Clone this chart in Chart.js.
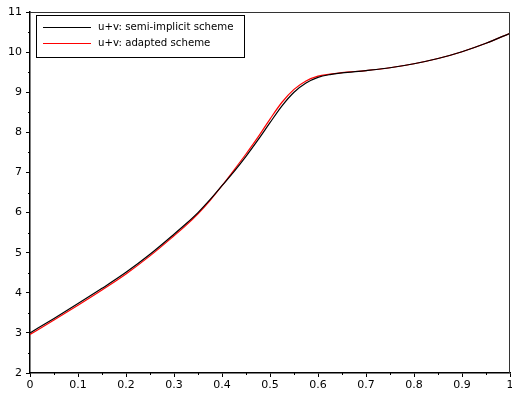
<!DOCTYPE html>
<html>
<head>
<meta charset="utf-8">
<script src="https://cdn.jsdelivr.net/npm/chart.js@4/dist/chart.umd.min.js"></script>
<style>
html,body{margin:0;padding:0;background:#fff;}
#wrap{width:512px;height:395px;}
</style>
</head>
<body>
<div id="wrap"><canvas id="c" width="512" height="395"></canvas></div>
<script>
const xValues = [0,0.05,0.1,0.15,0.2,0.25,0.3,0.325,0.35,0.375,0.4,0.425,0.45,0.475,0.5,0.525,0.55,0.575,0.6,0.625,0.65,0.7,0.75,0.8,0.85,0.9,0.95,1.0];
const semiImplicit = [3.0,3.36,3.73,4.11,4.51,4.96,5.46,5.72,6.0,6.32,6.67,7.02,7.4,7.81,8.24,8.66,9.0,9.23,9.37,9.44,9.48,9.54,9.61,9.71,9.84,10.01,10.22,10.47];
const adapted = [2.96,3.32,3.69,4.07,4.47,4.92,5.42,5.68,5.97,6.3,6.67,7.06,7.46,7.88,8.33,8.75,9.07,9.28,9.4,9.45,9.49,9.54,9.61,9.71,9.84,10.01,10.22,10.47];
const seriesLabels = ['u+v: semi-implicit scheme','u+v: adapted scheme'];
const seriesColors = ['#000000','#ff0000'];
const xTicks = [0,0.1,0.2,0.3,0.4,0.5,0.6,0.7,0.8,0.9,1];
const yTicks = [2,3,4,5,6,7,8,9,10,11];

const FONT = 'DejaVu Sans';

const framePlugin = {
  id:'frame',
  afterDraw(chart){
    const ctx = chart.ctx, a = chart.chartArea;
    const xs = chart.scales.x, ys = chart.scales.y;
    ctx.save();
    ctx.strokeStyle = '#333';
    ctx.lineWidth = 1;
    ctx.beginPath();
    ctx.moveTo(a.left, a.top+0.5); ctx.lineTo(a.right-0.5, a.top+0.5); ctx.lineTo(a.right-0.5, a.bottom);
    ctx.stroke();
    ctx.strokeStyle = '#000';
    ctx.beginPath();
    for (let i=0;i<xTicks.length-1;i++){
      const v=(xTicks[i]+xTicks[i+1])/2;
      const p=Math.round(xs.getPixelForValue(v))+0.5;
      ctx.moveTo(p,a.bottom); ctx.lineTo(p,a.bottom+2);
    }
    for (let i=0;i<yTicks.length-1;i++){
      const v=(yTicks[i]+yTicks[i+1])/2;
      const p=Math.round(ys.getPixelForValue(v))+0.5;
      ctx.moveTo(a.left,p); ctx.lineTo(a.left-2,p);
    }
    ctx.stroke();
    // legend
    const lx=36, ly=15, lw=208, lh=42;
    ctx.fillStyle='#fff';
    ctx.fillRect(lx,ly,lw,lh);
    ctx.strokeStyle='#000';
    ctx.lineWidth=1;
    ctx.strokeRect(lx+0.5,ly+0.5,lw,lh);
    ctx.font = '10.2px "'+FONT+'"';
    ctx.textBaseline='middle';
    ctx.textAlign='left';
    for (let i=0;i<seriesLabels.length;i++){
      const y = ly+12+i*16;
      ctx.fillStyle = seriesColors[i];
      ctx.fillRect(lx+7, y, 48, 1);
      ctx.fillStyle='#000';
      ctx.fillText(seriesLabels[i], lx+62, y);
    }
    ctx.restore();
  }
};

new Chart(document.getElementById('c'), {
  type:'line',
  data:{
    datasets:[
      {label:seriesLabels[0], data:xValues.map((x,i)=>({x:x,y:semiImplicit[i]})), borderColor:seriesColors[0], borderWidth:1.2, pointRadius:0, cubicInterpolationMode:'monotone', fill:false},
      {label:seriesLabels[1], data:xValues.map((x,i)=>({x:x,y:adapted[i]})), borderColor:seriesColors[1], borderWidth:1.2, pointRadius:0, cubicInterpolationMode:'monotone', fill:false}
    ]
  },
  options:{
    responsive:false,
    animation:false,
    events:[],
    layout:{padding:{left:0,right:2,top:12,bottom:0}},
    plugins:{legend:{display:false},tooltip:{enabled:false}},
    scales:{
      x:{
        type:'linear', min:0, max:1,
        afterBuildTicks(s){ s.ticks = xTicks.map(v=>({value:v})); },
        afterFit(s){ s.height = 22; s.paddingLeft = 0; s.paddingRight = 0; },
        ticks:{ font:{family:FONT,size:11}, color:'#000', padding:2, maxRotation:0, callback:v=>String(Math.round(v*10)/10) },
        grid:{ drawOnChartArea:false, drawTicks:true, tickLength:4, color:'#000', tickColor:'#000' },
        border:{ display:true, color:'#000', width:1.5 }
      },
      y:{
        type:'linear', min:2, max:11,
        afterBuildTicks(s){ s.ticks = yTicks.map(v=>({value:v})); },
        afterFit(s){ s.width = 30; s.paddingTop = 0; s.paddingBottom = 0; },
        ticks:{ font:{family:FONT,size:11}, color:'#000', padding:4, callback:v=>String(v) },
        grid:{ drawOnChartArea:false, drawTicks:true, tickLength:4, color:'#000', tickColor:'#000' },
        border:{ display:true, color:'#000', width:1.5 }
      }
    }
  },
  plugins:[framePlugin]
});
</script>
</body>
</html>
